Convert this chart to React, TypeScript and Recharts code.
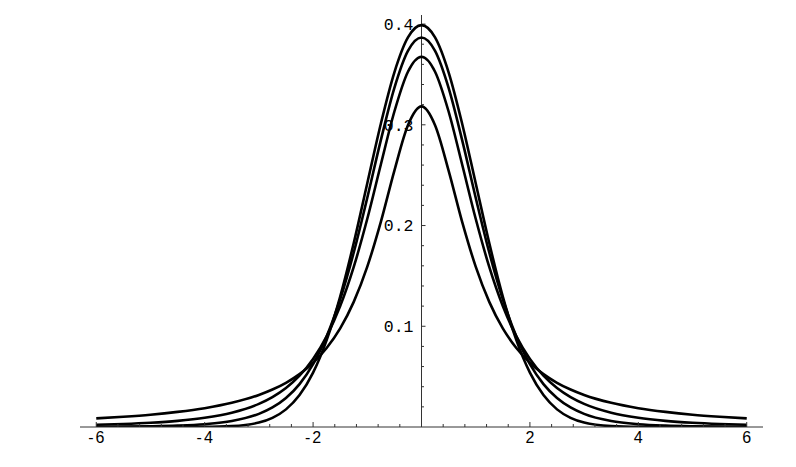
/** Four bell-shaped densities (normal plus three heavier-tailed ones),
 * Mathematica-style axes: y axis through x = 0, inward tick marks. */

import { Line, LineChart, ReferenceLine, XAxis, YAxis } from "recharts";

const xs = [
  -6, -5.5, -5, -4.5, -4, -3.5, -3, -2.75, -2.5, -2.25, -2, -1.75, -1.5, -1.25, -1, -0.75, -0.5, -0.25,
  0, 0.25, 0.5, 0.75, 1, 1.25, 1.5, 1.75, 2, 2.25, 2.5, 2.75, 3, 3.5, 4, 4.5, 5, 5.5, 6,
];

// tallest, thinnest-tailed curve
const curveA = [
  0, 0, 0, 0.00002, 0.00013, 0.00087, 0.0044, 0.0091, 0.0175, 0.0317, 0.054, 0.0863, 0.1295, 0.1826, 0.242, 0.3011, 0.3521, 0.3867,
  0.3989, 0.3867, 0.3521, 0.3011, 0.242, 0.1826, 0.1295, 0.0863, 0.054, 0.0317, 0.0175, 0.0091, 0.0044, 0.00087, 0.00013, 0.00002, 0, 0, 0,
];

const curveB = [
  0.00018, 0.00034, 0.00066, 0.00132, 0.00276, 0.0059, 0.013, 0.0194, 0.0288, 0.0426, 0.0624, 0.0899, 0.1268, 0.1732, 0.2276, 0.2848, 0.3367, 0.3734,
  0.3867, 0.3734, 0.3367, 0.2848, 0.2276, 0.1732, 0.1268, 0.0899, 0.0624, 0.0426, 0.0288, 0.0194, 0.013, 0.0059, 0.00276, 0.00132, 0.00066, 0.00034, 0.00018,
];

const curveC = [
  0.00217, 0.00299, 0.00422, 0.00612, 0.00916, 0.0142, 0.023, 0.0297, 0.0387, 0.0509, 0.0675, 0.09, 0.12, 0.1589, 0.2067, 0.2606, 0.3132, 0.3527,
  0.3676, 0.3527, 0.3132, 0.2606, 0.2067, 0.1589, 0.12, 0.09, 0.0675, 0.0509, 0.0387, 0.0297, 0.023, 0.0142, 0.00916, 0.00612, 0.00422, 0.00299, 0.00217,
];

// lowest peak, heaviest tails
const curveD = [
  0.0086, 0.0102, 0.0122, 0.015, 0.0187, 0.024, 0.0318, 0.0372, 0.0439, 0.0525, 0.0637, 0.0784, 0.0979, 0.1242, 0.1592, 0.2037, 0.2546, 0.2996,
  0.3183, 0.2996, 0.2546, 0.2037, 0.1592, 0.1242, 0.0979, 0.0784, 0.0637, 0.0525, 0.0439, 0.0372, 0.0318, 0.024, 0.0187, 0.015, 0.0122, 0.0102, 0.0086,
];

const xMajorTicks = [-6, -4, -2, 0, 2, 4, 6];
const xMinorTicks = [
  -5.6, -5.2, -4.8, -4.4, -3.6, -3.2, -2.8, -2.4, -1.6, -1.2, -0.8, -0.4,
  0.4, 0.8, 1.2, 1.6, 2.4, 2.8, 3.2, 3.6, 4.4, 4.8, 5.2, 5.6,
];
const yMajorTicks = [0.1, 0.2, 0.3, 0.4];
const yMinorTicks = [
  0.02, 0.04, 0.06, 0.08, 0.12, 0.14, 0.16, 0.18, 0.22, 0.24, 0.26, 0.28, 0.32, 0.34, 0.36, 0.38,
];

const rows = xs.map((x, i) => ({
  x,
  a: curveA[i],
  b: curveB[i],
  c: curveC[i],
  d: curveD[i],
}));

const AXIS = "#333";

function XTick({ x, y, payload }: { x?: number; y?: number; payload?: { value: number } }) {
  const v = payload?.value ?? 0;
  const major = xMajorTicks.includes(v);
  const px = x ?? 0;
  const py = y ?? 0;
  return (
    <g>
      <line x1={px} x2={px} y1={py} y2={py - (major ? 5 : 3)} stroke={AXIS} strokeWidth={1} />
      {major && v !== 0 && (
        <text
          x={px}
          y={py + 16}
          textAnchor="middle"
          fontFamily="'Liberation Sans', Arial, sans-serif"
          fontSize={16}
          fill="#000"
        >
          {v < 0 ? (
            <>
              <tspan>-</tspan>
              <tspan dx={2}>{Math.abs(v)}</tspan>
            </>
          ) : (
            v
          )}
        </text>
      )}
    </g>
  );
}

function yTickShape(value: number, major: boolean) {
  return (p: { x1?: number; y1?: number }) => {
    const x0 = p.x1 ?? 0;
    const y0 = p.y1 ?? 0;
    return (
      <g>
        <line x1={x0} x2={x0 + (major ? 4 : 2.5)} y1={y0} y2={y0} stroke={AXIS} strokeWidth={1} />
        {major && (
          <text
            x={x0 - 8}
            y={y0}
            dy="0.35em"
            textAnchor="end"
            fontFamily="'Liberation Mono', 'DejaVu Sans Mono', monospace"
            fontSize={16.5}
            fill="#000"
          >
            {value.toFixed(1)}
          </text>
        )}
      </g>
    );
  };
}

export default function App() {
  return (
    <div style={{ position: "absolute", left: 0, top: 0, background: "#fff" }}>
      <LineChart width={796} height={467} data={rows} margin={{ top: 15, right: 33, bottom: 10, left: 80 }}>
        <XAxis
          dataKey="x"
          type="number"
          domain={[-6.3, 6.3]}
          ticks={[...xMajorTicks, ...xMinorTicks].sort((p, q) => p - q)}
          interval={0}
          tick={<XTick />}
          tickLine={false}
          tickSize={0}
          tickMargin={0}
          height={30}
          axisLine={{ stroke: AXIS, strokeWidth: 1 }}
          allowDataOverflow
        />
        <YAxis hide type="number" domain={[0, 0.409]} allowDataOverflow />
        <ReferenceLine x={0} stroke={AXIS} strokeWidth={1} />
        {yMinorTicks.map((v) => (
          <ReferenceLine
            key={`m${v}`}
            segment={[{ x: 0, y: v }, { x: 0.05, y: v }]}
            shape={yTickShape(v, false)}
          />
        ))}
        {yMajorTicks.map((v) => (
          <ReferenceLine
            key={`M${v}`}
            segment={[{ x: 0, y: v }, { x: 0.05, y: v }]}
            shape={yTickShape(v, true)}
          />
        ))}
        {(["d", "c", "b", "a"] as const).map((k) => (
          <Line
            key={k}
            dataKey={k}
            type="monotone"
            stroke="#000"
            strokeWidth={2.6}
            dot={false}
            activeDot={false}
            isAnimationActive={false}
          />
        ))}
      </LineChart>
    </div>
  );
}
